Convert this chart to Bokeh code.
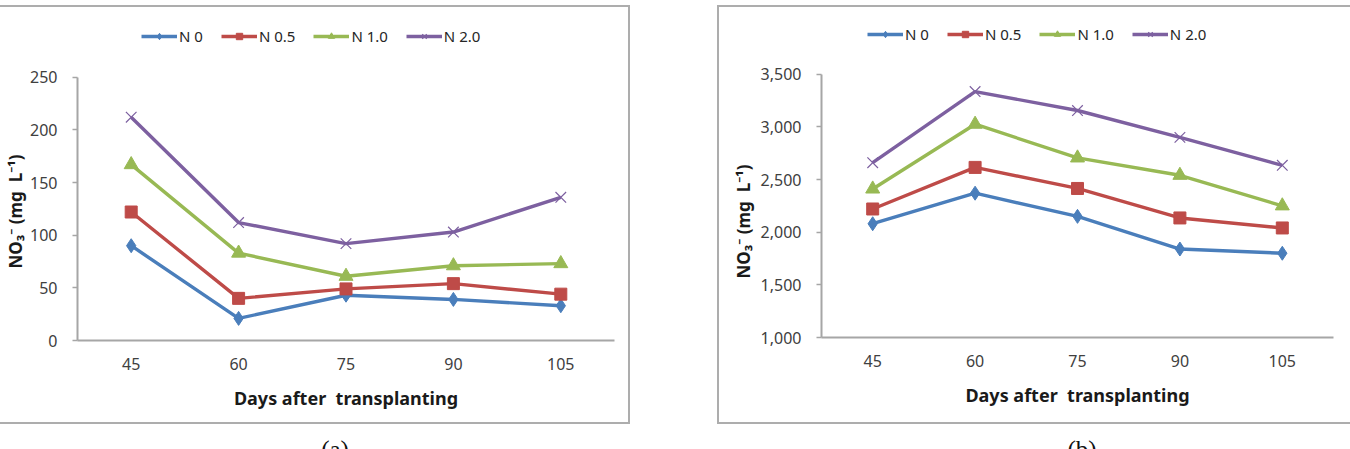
from bokeh.plotting import figure
from bokeh.layouts import row, column
from bokeh.models import (Div, Spacer, Legend, LegendItem, FactorRange, Range1d,
                          FixedTicker, NumeralTickFormatter, Title)
from bokeh.embed import file_html
from bokeh.resources import INLINE

# ---------------- data ----------------
days = ["45", "60", "75", "90", "105"]
series_names = ["N 0", "N 0.5", "N 1.0", "N 2.0"]

a_n0 = [90, 21, 43, 39, 33]
a_n05 = [122, 40, 49, 54, 44]
a_n10 = [167, 83, 61, 71, 73]
a_n20 = [212, 112, 92, 103, 136]

b_n0 = [2080, 2370, 2150, 1840, 1800]
b_n05 = [2220, 2615, 2415, 2135, 2040]
b_n10 = [2410, 3025, 2705, 2540, 2250]
b_n20 = [2660, 3335, 3155, 2900, 2635]

a_ticks = [0, 50, 100, 150, 200, 250]
b_ticks = [1000, 1500, 2000, 2500, 3000, 3500]

x_title = "Days after\u00a0 transplanting"
y_title = "NO\u2083\u207b (mg\u00a0 L\u207b\u00b9)"

# ---------------- style ----------------
colors = ["#4A7EBB", "#BE4B48", "#98B954", "#7D60A0"]
markers = ["diamond", "square", "triangle", "x"]
msizes = [14, 12, 14, 15]
FONT = "Noto Sans"
GREY = "#A6A6A6"


def make_panel(series, ticks, fmt, px_per_unit, mb_left, mb_right, frame_top, frame_bottom,
               content_h, fw, legend_loc, title_offset, title_standoff, border_css):
    fh = frame_bottom - frame_top
    y_end = ticks[0] + fh / px_per_unit
    p = figure(x_range=FactorRange(*days), y_range=Range1d(ticks[0], y_end),
               frame_width=fw, frame_height=fh,
               min_border_left=mb_left, min_border_right=mb_right,
               min_border_top=frame_top - 7, min_border_bottom=7 + content_h - frame_bottom,
               output_backend="svg", toolbar_location=None)
    p.outline_line_color = None
    p.xgrid.grid_line_color = None
    p.ygrid.grid_line_color = None
    p.background_fill_color = "white"
    p.border_fill_color = "white"
    p.styles = border_css

    items = []
    for name, vals, c, m, s in zip(series_names, series, colors, markers, msizes):
        lr = p.line(days, vals, line_color=c, line_width=3.4)
        if m == "x":
            sr = p.scatter(days, vals, marker=m, size=s, line_color=c, line_width=1.2)
        else:
            sr = p.scatter(days, vals, marker=m, size=s, fill_color=c, line_color=c)
        items.append(LegendItem(label=name, renderers=[lr, sr]))

    leg = Legend(items=items, orientation="horizontal", location=legend_loc,
                 label_text_font=FONT, label_text_font_size="15px",
                 label_text_color="#262626", glyph_width=36, glyph_height=16,
                 label_standoff=2, spacing=18, padding=0, margin=0,
                 border_line_color=None, background_fill_alpha=0)
    p.add_layout(leg)

    xa = p.xaxis[0]
    xa.axis_line_color = GREY
    xa.axis_line_width = 2
    xa.major_tick_line_color = None
    xa.minor_tick_line_color = None
    xa.major_tick_out = 0
    xa.major_label_standoff = 17
    xa.major_label_text_font = FONT
    xa.major_label_text_font_size = "16px"
    xa.major_label_text_color = "#404040"
    xa.axis_label = x_title
    xa.axis_label_text_font = FONT
    xa.axis_label_text_font_style = "bold"
    xa.axis_label_text_font_size = "18px"
    xa.axis_label_text_color = "#1a1a1a"
    xa.axis_label_standoff = 13

    ya = p.yaxis[0]
    ya.ticker = FixedTicker(ticks=ticks)
    ya.bounds = (ticks[0], ticks[-1])
    ya.formatter = NumeralTickFormatter(format=fmt)
    ya.axis_line_color = GREY
    ya.axis_line_width = 2
    ya.major_tick_line_color = GREY
    ya.major_tick_line_width = 1.5
    ya.major_tick_out = 5
    ya.major_tick_in = 0
    ya.minor_tick_line_color = None
    ya.major_label_standoff = 15
    ya.major_label_text_font = FONT
    ya.major_label_text_font_size = "16px"
    ya.major_label_text_color = "#404040"

    yt = Title(text=y_title, align="left", offset=title_offset, standoff=title_standoff,
               text_font=FONT, text_font_size="17px", text_font_style="bold",
               text_color="#1a1a1a")
    p.add_layout(yt, "left")
    return p


border = "2px solid #ADADAD"
# left panel: frame x 77..612, axis 0 at y=336, 250 at y=76
p1 = make_panel([a_n0, a_n05, a_n10, a_n20], a_ticks, "0", 52 / 50,
                77, 16, 20, 336, 415, 535, (64, 294), 72, 2,
                {"border-top": border, "border-right": border, "border-bottom": border})
# right panel: frame x 821..1331, axis 1000 at y=333, 3500 at y=73
p2 = make_panel([b_n0, b_n05, b_n10, b_n20], b_ticks, "0,0", 52 / 500,
                102, 19, 20, 333, 415, 510, (46, 293), 59, 6,
                {"border-top": border, "border-left": border, "border-bottom": border})

cap_a = ("<div style=\"font-family:'Liberation Serif';font-size:25px;text-align:center;"
         "line-height:25px;margin-top:8px;color:#111;width:660px\">(a)</div>")
cap_b = ("<div style=\"font-family:'Liberation Serif';font-size:25px;text-align:center;"
         "line-height:25px;margin-top:8px;color:#111;width:566px\">(b)</div>")
div_a = Div(text=cap_a, width=660, height=25, styles={"overflow": "hidden"})
div_b = Div(text=cap_b, width=566, height=25, styles={"overflow": "hidden"})

layout = column(Spacer(height=5),
                row(p1, Spacer(width=87), p2),
                row(div_a, Spacer(width=124), div_b))

open("out.html", "w").write(file_html(layout, INLINE))
